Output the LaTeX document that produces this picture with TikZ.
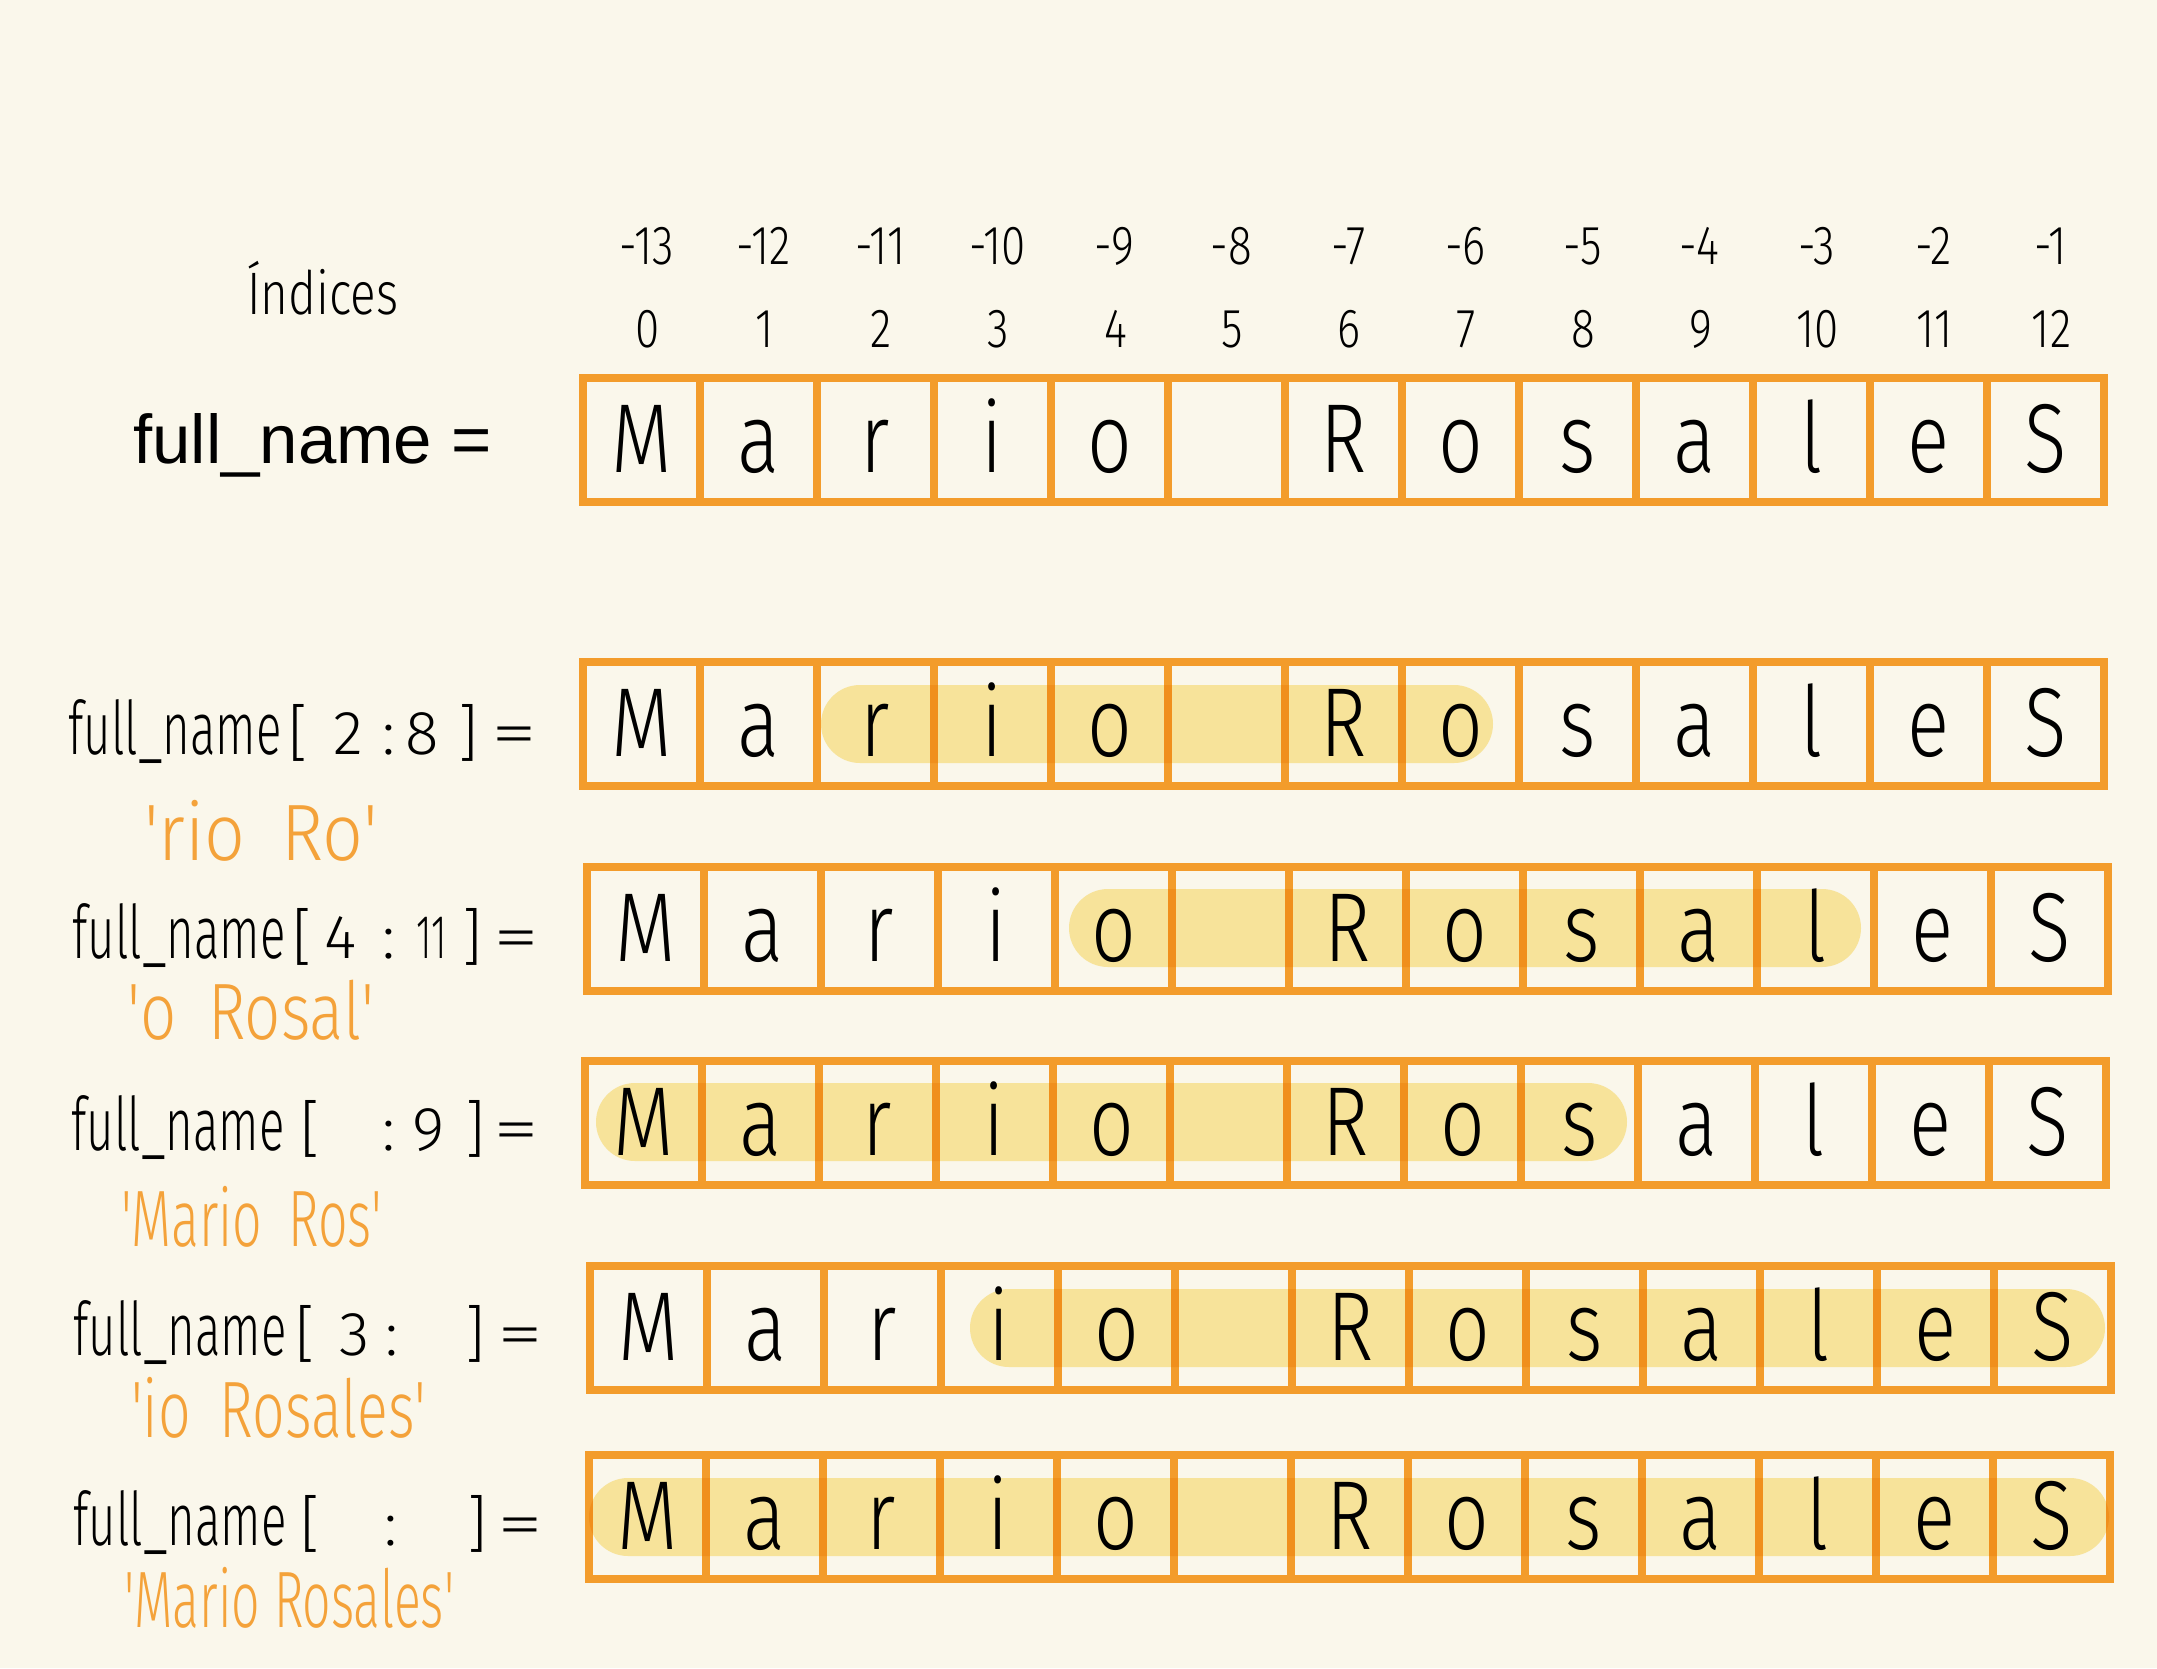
\documentclass[tikz,border=0pt]{standalone}
\usepackage{fontspec}
\newfontfamily\labfont{Liberation Sans}
\newfontfamily\hwf{Fira Sans Light}
\usetikzlibrary{calc}
\definecolor{bgc}{HTML}{FAF7EB}
\definecolor{orng}{HTML}{F39C2B}
\definecolor{hlc}{HTML}{FCEBA8}
\definecolor{otext}{HTML}{F4A23A}
\newcommand\fitx[2]{\resizebox{#1}{\height}{#2}}
\newcommand\sqx[2]{\scalebox{#1}[1]{#2}}
\tikzset{
 cellbox/.style={rectangle, draw=orng, line width=8pt, minimum width=117pt, minimum height=124pt, inner sep=0pt, outer sep=0pt},
 letter/.style={anchor=base, inner sep=0pt, font=\hwf\fontsize{98}{98}\selectfont},
 idx/.style={anchor=base, inner sep=0pt, font=\hwf\fontsize{55}{55}\selectfont},
 hwlabel/.style={anchor=base, inner sep=0pt, font=\hwf\fontsize{74}{74}\selectfont},
 hwsym/.style={anchor=base, inner sep=0pt, font=\hwf\fontsize{62}{62}\selectfont},
 slicetxt/.style={anchor=base west, inner sep=0pt, text=otext, font=\hwf\fontsize{80}{80}\selectfont},
 pill/.style={fill=hlc, rounded corners=39pt},
}
\newcommand\heq{\sqx{1.5}{=}}
\begin{document}
\begin{tikzpicture}[x=1pt,y=-1pt]
\fill[bgc] (0,0) rectangle (2157,1668);
\useasboundingbox (0,0) rectangle (2157,1668);

% cells
\foreach \rw/\xo/\yt in {0/583/378, 1/583/662, 2/587/867, 3/585/1061, 4/590/1266, 5/589/1455} {
  \foreach \k in {0,...,12} {
    \node[cellbox] (r\rw-\k) at (\xo+117*\k+58.5, \yt+62) {};
  }
}

% highlights
\begin{scope}[blend mode=multiply]
\fill[pill] (821,685) rectangle (1493,763);
\fill[pill] (1069,889) rectangle (1861,967);
\fill[pill] (596,1083) rectangle (1627,1161);
\fill[pill] (970,1289) rectangle (2105,1367);
\fill[pill] (589,1478) rectangle (2109,1556);
\end{scope}

% letters
\foreach \rw in {0,...,5} {
  \foreach \ch [count=\k from 0] in {M,a,r,i,o,{},R,o,s,a,l,e,S} {
    \node[letter] (t\rw-\k) at ($(r\rw-\k.center)+(0,32)$) {\sqx{0.8}{\ch}};
  }
}

% indices
\node[anchor=base, inner sep=0pt, font=\hwf\fontsize{60}{60}\selectfont] (ind) at (323,314) {\fitx{151pt}{Índices}};
\foreach \k in {0,...,12} {
  \pgfmathtruncatemacro\ng{\k-13}
  \node[idx] (neg\k) at ($(r0-\k.center)+(5,-176)$) {\sqx{0.8}{\ng}};
  \node[idx] (pos\k) at ($(r0-\k.center)+(6,-93)$) {\sqx{0.8}{\k}};
}

% main label
\node[anchor=base west, inner sep=0pt, font=\labfont\fontsize{69}{69}\selectfont] (fn) at (133,463) {full\_name =};

% row 1
\node[hwlabel] (l1) at (175,754) {\fitx{213pt}{full\_name}};
\node[hwsym] (l1a) at (298,754) {[};
\node[hwsym] (l1b) at (348,754) {2};
\node[hwsym] (l1c) at (389,754) {:};
\node[hwsym] (l1d) at (422,754) {8};
\node[hwsym] (l1e) at (468,754) {]};
\node[hwsym] (l1f) at (514,754) {\heq};
\node[slicetxt] (s1) at (144,860) {\fitx{234pt}{\textquotesingle rio\enspace Ro\textquotesingle}};

% row 2
\node[hwlabel] (l2) at (179,958) {\fitx{213pt}{full\_name}};
\node[hwsym] (l2a) at (302,958) {[};
\node[hwsym] (l2b) at (341,958) {4};
\node[hwsym] (l2c) at (389,958) {:};
\node[hwsym] (l2d) at (432,958) {\sqx{0.6}{11}};
\node[hwsym] (l2e) at (472,958) {]};
\node[hwsym] (l2f) at (516,958) {\heq};
\node[slicetxt] (s2) at (127,1039) {\fitx{247pt}{\textquotesingle o\enspace Rosal\textquotesingle}};

% row 3
\node[hwlabel] (l3) at (178,1150) {\fitx{213pt}{full\_name}};
\node[hwsym] (l3a) at (310,1150) {[};
\node[hwsym] (l3c) at (389,1150) {:};
\node[hwsym] (l3d) at (429,1150) {9};
\node[hwsym] (l3e) at (475,1150) {]};
\node[hwsym] (l3f) at (516,1150) {\heq};
\node[slicetxt] (s3) at (121,1246) {\fitx{261pt}{\textquotesingle Mario\enspace Ros\textquotesingle}};

% row 4
\node[hwlabel] (l4) at (180,1355) {\fitx{213pt}{full\_name}};
\node[hwsym] (l4a) at (305,1355) {[};
\node[hwsym] (l4b) at (355,1355) {3};
\node[hwsym] (l4c) at (392,1355) {:};
\node[hwsym] (l4e) at (475,1355) {]};
\node[hwsym] (l4f) at (520,1355) {\heq};
\node[slicetxt] (s4) at (131,1437) {\fitx{295pt}{\textquotesingle io\enspace Rosales\textquotesingle}};

% row 5
\node[hwlabel] (l5) at (180,1545) {\fitx{213pt}{full\_name}};
\node[hwsym] (l5a) at (310,1545) {[};
\node[hwsym] (l5c) at (391,1545) {:};
\node[hwsym] (l5e) at (477,1545) {]};
\node[hwsym] (l5f) at (520,1545) {\heq};
\node[slicetxt] (s5) at (124,1627) {\fitx{330pt}{\textquotesingle Mario Rosales\textquotesingle}};
\end{tikzpicture}
\end{document}
